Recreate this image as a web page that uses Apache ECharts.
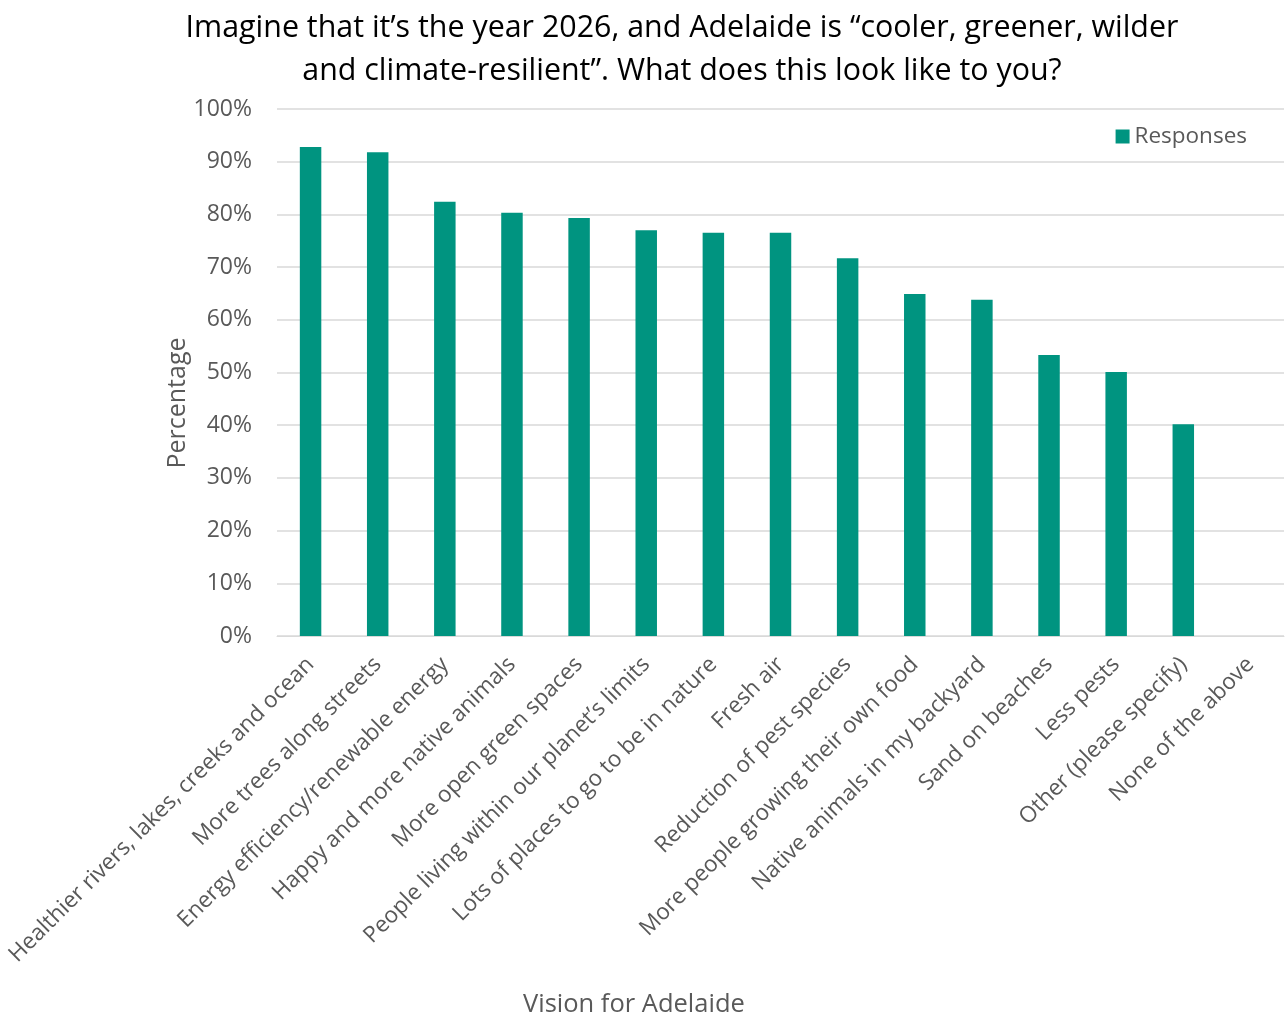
<!DOCTYPE html>
<html>
<head>
<meta charset="utf-8">
<script src="https://cdn.jsdelivr.net/npm/echarts@6/dist/echarts.min.js"></script>
<style>
  body { margin: 0; background: #fff; }
  #chart { width: 1286px; height: 1020px; }
</style>
</head>
<body>
<div id="chart"></div>
<script>
const categories = [
  'Healthier rivers, lakes, creeks and ocean',
  'More trees along streets',
  'Energy efficiency/renewable energy',
  'Happy and more native animals',
  'More open green spaces',
  'People living within our planet\u2019s limits',
  'Lots of places to go to be in nature',
  'Fresh air',
  'Reduction of pest species',
  'More people growing their own food',
  'Native animals in my backyard',
  'Sand on beaches',
  'Less pests',
  'Other (please specify)',
  'None of the above'
]
const responses = [92.8, 91.8, 82.4, 80.3, 79.3, 77.0, 76.5, 76.5, 71.7, 64.9, 63.8, 53.3, 50.1, 40.2, 0]

const textColor = '#595959'
const font = '"Open Sans", "Noto Sans", sans-serif'

const chart = echarts.init(document.getElementById('chart'))
chart.setOption({
  animation: false,
  textStyle: { fontFamily: font, color: textColor },
  title: [{
    text: 'Imagine that it\u2019s the year 2026, and Adelaide is \u201ccooler, greener, wilder\nand climate-resilient\u201d. What does this look like to you?',
    left: 677,
    textAlign: 'center',
    top: 2,
    textStyle: { fontSize: 30.4, fontWeight: 'normal', color: '#000', lineHeight: 43, fontFamily: font }
  }, {
    text: 'Vision for Adelaide',
    left: 523,
    top: 992,
    padding: 0,
    textStyle: { fontSize: 25.5, fontWeight: 'normal', color: textColor, fontFamily: font }
  }],
  // y axis name sits a little below the grid's middle in the original
  graphic: [{
    type: 'text',
    x: 178,
    y: 403,
    rotation: Math.PI / 2,
    style: {
      text: 'Percentage',
      fontSize: 25,
      fontFamily: font,
      fill: textColor,
      align: 'center',
      verticalAlign: 'middle'
    }
  }],
  legend: {
    right: 34,
    top: 120,
    itemWidth: 14,
    itemHeight: 14,
    itemGap: 7,
    icon: 'rect',
    textStyle: { fontSize: 22.5, color: textColor, fontFamily: font },
    data: ['Responses']
  },
  grid: { left: 277, right: 2, top: 109, bottom: 384, outerBoundsMode: 'none' },
  xAxis: {
    type: 'category',
    data: categories,
    axisLine: { lineStyle: { color: '#d9d9d9', width: 1 } },
    axisTick: { show: false },
    axisLabel: { rotate: 45, interval: 0, fontSize: 22.5, color: textColor, margin: 25 }
  },
  yAxis: {
    type: 'value',
    min: 0,
    max: 100,
    interval: 10,
    axisLine: { show: false },
    axisTick: { show: false },
    axisLabel: { formatter: '{value}%', fontSize: 23, color: textColor, margin: 25 },
    splitLine: { lineStyle: { color: '#d9d9d9', width: 1.5 } }
  },
  series: [{
    name: 'Responses',
    type: 'bar',
    data: responses,
    barWidth: '32%',
    itemStyle: { color: '#009480' }
  }]
})
</script>
</body>
</html>
